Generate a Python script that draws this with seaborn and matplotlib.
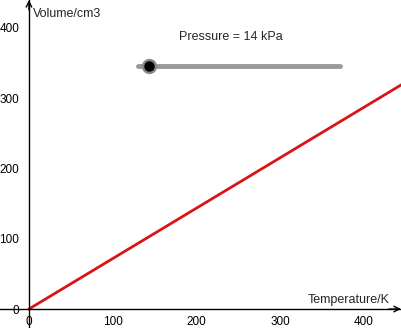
import matplotlib
matplotlib.use("Agg")
import matplotlib.pyplot as plt
import seaborn as sns
import pandas as pd

# data
temperature = [0, 445]
volume = [0, 319]
x_ticks = [0, 100, 200, 300, 400]
y_ticks = [0, 100, 200, 300, 400]
x_label = "Temperature/K"
y_label = "Volume/cm3"
slider_text = "Pressure = 14 kPa"

sns.set_style("white")
plt.rcParams['font.family'] = ['Liberation Sans', 'DejaVu Sans']

W, H = 401, 328
fig = plt.figure(figsize=(W / 100, H / 100), dpi=100)
ax = fig.add_axes([0, 0, 1, 1])
ax.set_xlim(-34.6, 444.5)
ax.set_ylim(-27.0, 439.5)

df = pd.DataFrame({"T": temperature, "V": volume})
sns.lineplot(data=df, x="T", y="V", ax=ax, color="#d81414", linewidth=2.0)
ax.set_xlabel("")
ax.set_ylabel("")

for s in ["top", "right"]:
    ax.spines[s].set_visible(False)
for s in ["left", "bottom"]:
    ax.spines[s].set_position(("data", 0))
    ax.spines[s].set_color("black")
    ax.spines[s].set_linewidth(1.0)

ax.set_xticks(x_ticks)
ax.set_yticks(y_ticks)
ax.set_xticklabels([str(v) for v in x_ticks])
ax.set_yticklabels([str(v) for v in y_ticks])
ax.tick_params(axis="both", direction="out", length=3, width=1, color="black",
               labelsize=8.5, labelcolor="black")
ax.tick_params(axis="x", pad=2)
ax.tick_params(axis="y", pad=4)

# axis arrows
ax.annotate("", xy=(1.0, 0), xycoords=("axes fraction", "data"),
            xytext=(0.97, 0), textcoords=("axes fraction", "data"),
            arrowprops=dict(arrowstyle="->", color="black", lw=1.0, shrinkA=0, shrinkB=0))
ax.annotate("", xy=(0, 1.0), xycoords=("data", "axes fraction"),
            xytext=(0, 0.97), textcoords=("data", "axes fraction"),
            arrowprops=dict(arrowstyle="->", color="black", lw=1.0, shrinkA=0, shrinkB=0))

# axis labels
fig.text(33 / W, 1 - 14 / H, y_label, fontsize=9, ha="left", va="center")
fig.text(390 / W, 1 - 300 / H, x_label, fontsize=9, ha="right", va="center")

# slider
fig.text(231 / W, 1 - 37 / H, slider_text, fontsize=9, ha="center", va="center")
fig.add_artist(plt.Line2D([138 / W, 340 / W], [1 - 66 / H, 1 - 66 / H],
                          transform=fig.transFigure, color="#999999", linewidth=3.5,
                          solid_capstyle="round"))
fig.add_artist(plt.Line2D([149 / W], [1 - 66 / H], transform=fig.transFigure,
                          marker="o", markersize=11, markerfacecolor="#888888",
                          markeredgecolor="none", linestyle="none"))
fig.add_artist(plt.Line2D([149 / W], [1 - 66 / H], transform=fig.transFigure,
                          marker="o", markersize=7.5, markerfacecolor="black",
                          markeredgecolor="none", linestyle="none"))

fig.savefig("out.png", dpi=100)
